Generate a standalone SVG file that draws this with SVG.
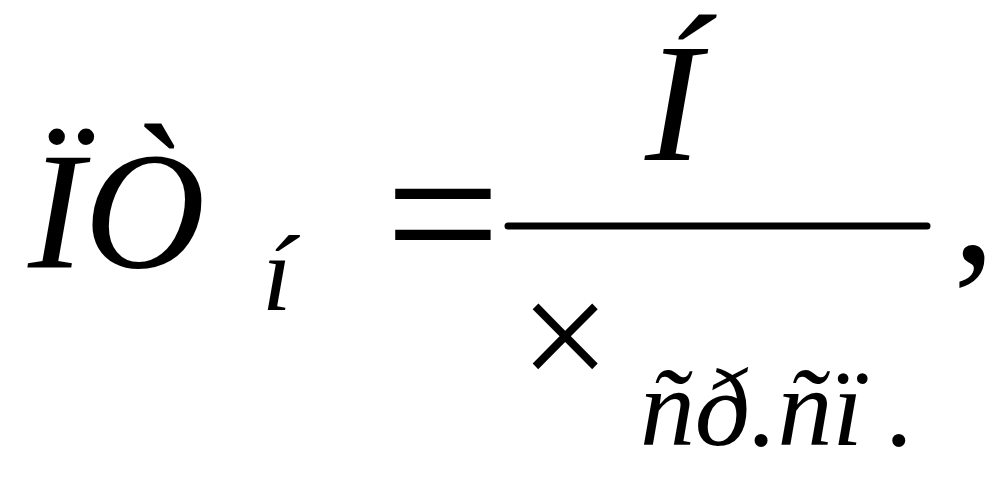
<svg xmlns="http://www.w3.org/2000/svg" width="1000" height="500" viewBox="0 0 1000 500">
<style>
text{font-family:"Liberation Serif","Times New Roman",serif;fill:#000}
.i{font-style:italic}
</style>
<rect width="1000" height="500" fill="#fff"/>
<g id="lhs">
<text class="i" x="28" y="267" font-size="168">ÏÒ</text>
<text class="i" x="262" y="310" font-size="108">í</text>
</g>
<text id="eq" x="385" y="283" font-size="205">=</text>
<g id="fraction">
<text class="i" x="645" y="160" font-size="170">Í</text>
<line x1="508" y1="226" x2="927" y2="226" stroke="#000" stroke-width="7" stroke-linecap="round"/>
<text x="520" y="390" font-size="160">×</text>
<text class="i" x="640" y="445" font-size="110">ñð.ñï</text>
<text x="885" y="445" font-size="110">.</text>
</g>
<text id="comma" x="953" y="262" font-size="168">,</text>
</svg>
